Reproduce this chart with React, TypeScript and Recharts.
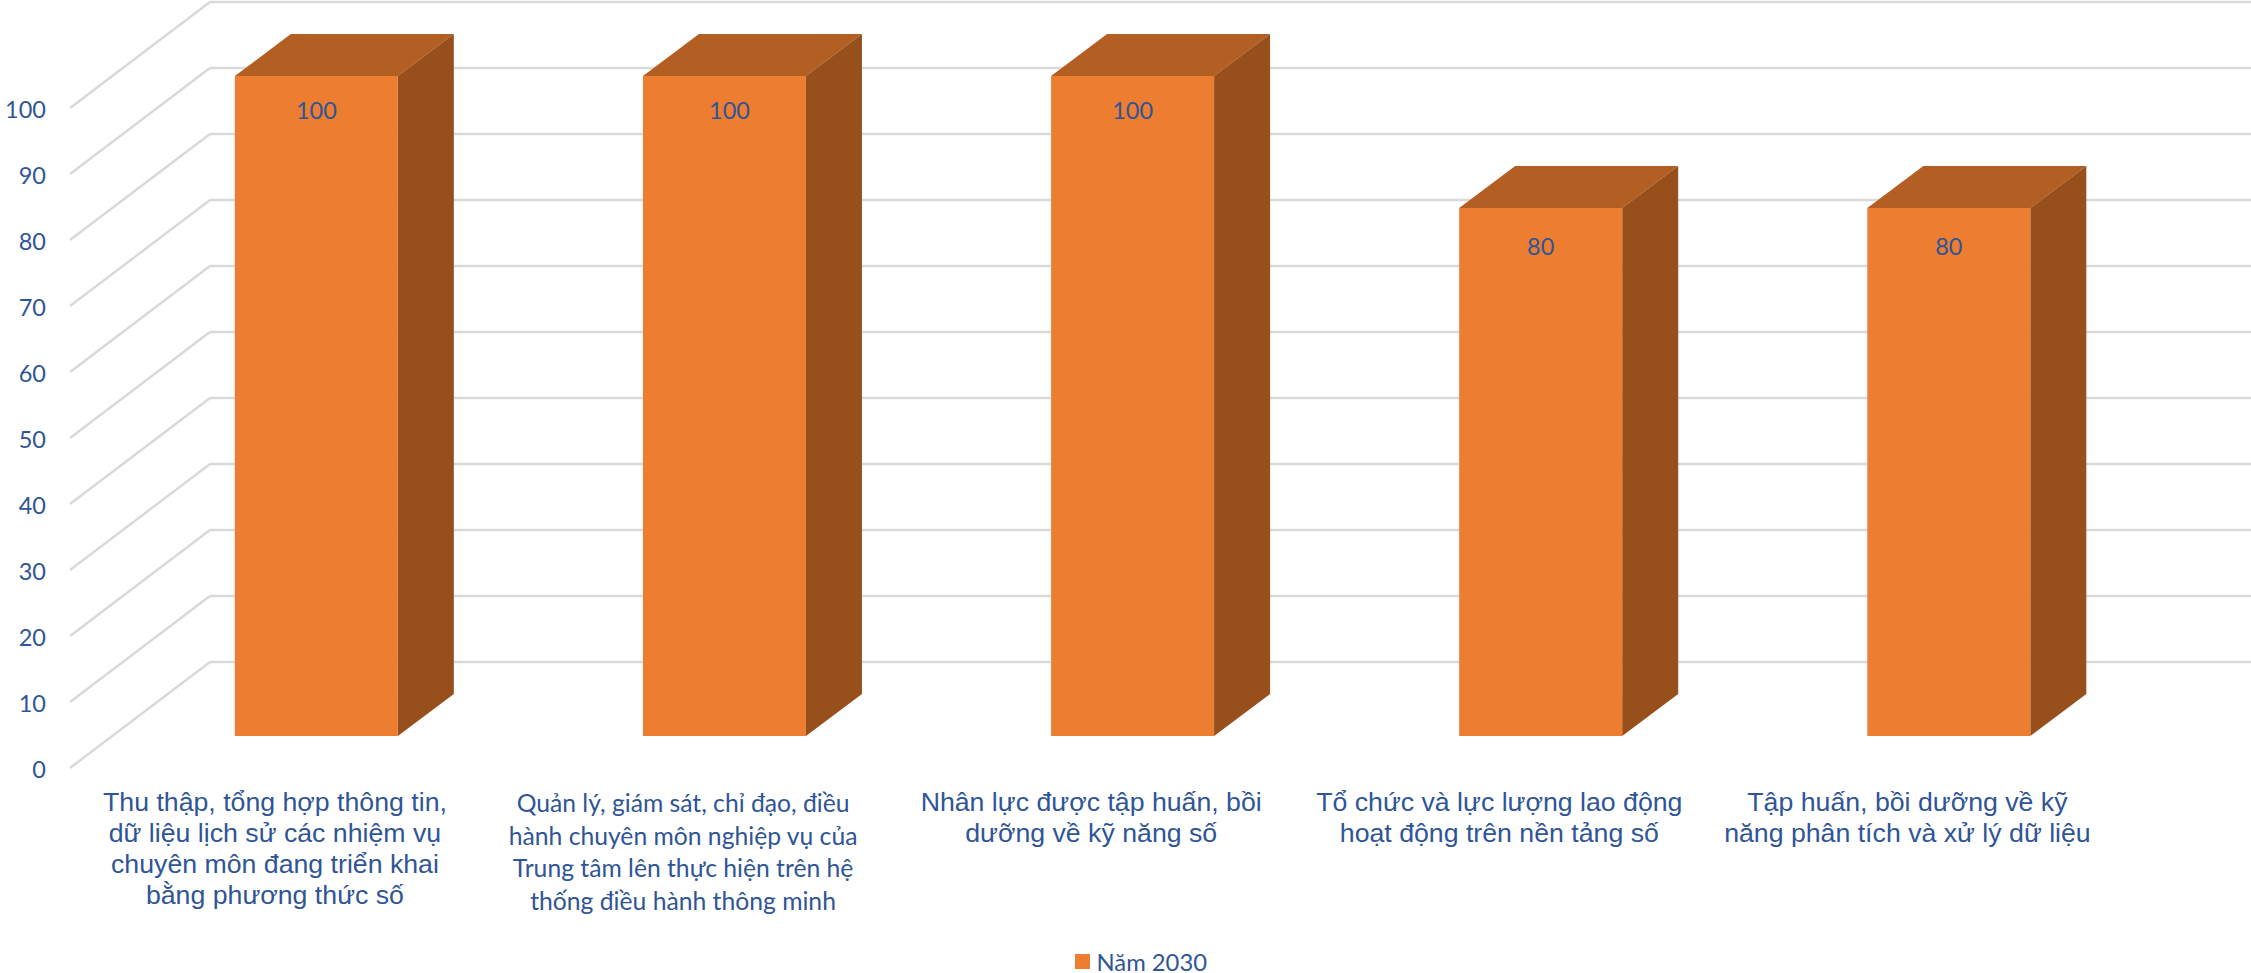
import React from "react";
import { BarChart, Bar, XAxis, YAxis, CartesianGrid, Legend, LabelList } from "recharts";

const categories = [
  "Thu thập, tổng hợp thông tin, dữ liệu lịch sử các nhiệm vụ chuyên môn đang triển khai bằng phương thức số",
  "Quản lý, giám sát, chỉ đạo, điều hành chuyên môn nghiệp vụ của Trung tâm lên thực hiện trên hệ thống điều hành thông minh",
  "Nhân lực được tập huấn, bồi dưỡng về kỹ năng số",
  "Tổ chức và lực lượng lao động hoạt động trên nền tảng số",
  "Tập huấn, bồi dưỡng về kỹ năng phân tích và xử lý dữ liệu",
];
const categoryLines = [
  ["Thu thập, tổng hợp thông tin,", "dữ liệu lịch sử các nhiệm vụ", "chuyên môn đang triển khai", "bằng phương thức số"],
  ["Quản lý, giám sát, chỉ đạo, điều", "hành chuyên môn nghiệp vụ của", "Trung tâm lên thực hiện trên hệ", "thống điều hành thông minh"],
  ["Nhân lực được tập huấn, bồi", "dưỡng về kỹ năng số"],
  ["Tổ chức và lực lượng lao động", "hoạt động trên nền tảng số"],
  ["Tập huấn, bồi dưỡng về kỹ", "năng phân tích và xử lý dữ liệu"],
];
const values2030 = [100, 100, 100, 80, 80];
const yTicks = [0, 10, 20, 30, 40, 50, 60, 70, 80, 90, 100];
const seriesName = "Năm 2030";
const data = categories.map((name, i) => ({ name, value: values2030[i] }));

const TEXT = "#2F5597";
const GRID = "#D9D9D9";
const FRONT = "#ED7D31";
const TOP = "#B35E22";
const SIDE = "#974F1B";
const NUM_FONT = "Lato, sans-serif";
const CAT_FONT = "'Liberation Sans', Arial, sans-serif";

const Bar3D = (p: any) => {
  const { x, y, width, height } = p;
  const dx = 56;
  const dy = 42;
  const r = x + width;
  const b = y + height;
  return (
    <g>
      <polygon points={`${x},${y} ${x + dx},${y - dy} ${r + dx},${y - dy} ${r},${y}`} fill={TOP} />
      <polygon points={`${r},${y} ${r + dx},${y - dy} ${r + dx},${b - dy} ${r},${b}`} fill={SIDE} />
      <rect x={x} y={y} width={width} height={height} fill={FRONT} />
    </g>
  );
};

const gridLine = (p: any) => {
  const { x1, x2, y1, index } = p;
  const fx = x1 - 42.4;
  const bx = x1 + 97.6;
  return (
    <g key={`g-${index}`}>
      <line x1={fx} y1={y1 + 32} x2={bx} y2={y1 - 74} stroke={GRID} strokeWidth={2.4} />
      <line x1={bx} y1={y1 - 74} x2={x2 + 98} y2={y1 - 74} stroke={GRID} strokeWidth={2.6} />
    </g>
  );
};

const YTick = (p: any) => (
  <text x={46} y={p.y + 33} textAnchor="end" dominantBaseline="central" fontFamily={NUM_FONT} fontSize={23.5} fill={TEXT}>
    {p.payload.value}
  </text>
);

const XTick = (p: any) => {
  const i = p.payload.index;
  const second = i === 1;
  const startY = second ? 802.5 : 802;
  return (
    <text
      x={p.x - 41.5}
      textAnchor="middle"
      fontFamily={second ? NUM_FONT : CAT_FONT}
      fontSize={second ? 24.7 : 26.7}
      fill={TEXT}
    >
      {categoryLines[i].map((line, k) => (
        <tspan key={k} x={p.x - 41.5} y={startY + k * (second ? 32.5 : 31)} dominantBaseline="central">
          {line}
        </tspan>
      ))}
    </text>
  );
};

const DataLabel = (p: any) => (
  <text
    x={p.x + p.width / 2 + (p.index === 1 ? 5 : 0)}
    y={p.y + (p.value === 80 ? 38 : 34)}
    textAnchor="middle"
    dominantBaseline="central"
    fontFamily={NUM_FONT}
    fontSize={23.5}
    fill={TEXT}
  >
    {p.value}
  </text>
);

const LegendBox = () => (
  <div style={{ position: "relative", width: 140, height: 24 }}>
    <div style={{ position: "absolute", left: 0, top: 4, width: 15, height: 15, background: FRONT }} />
    <span
      style={{
        position: "absolute",
        left: 21.5,
        top: 0,
        fontFamily: NUM_FONT,
        fontSize: 23.8,
        lineHeight: "24px",
        color: TEXT,
        whiteSpace: "nowrap",
      }}
    >
      {seriesName}
    </span>
  </div>
);

export default function App() {
  return (
    <div style={{ position: "absolute", left: 0, top: 0, width: 2251, height: 973, background: "#fff" }}>
      <BarChart
        width={2251}
        height={973}
        data={data}
        margin={{ top: 76, right: 98, bottom: 0, left: 0 }}
        barCategoryGap="30%"
      >
        <CartesianGrid vertical={false} horizontal={gridLine} />
        <XAxis dataKey="name" axisLine={false} tickLine={false} height={213} interval={0} tick={XTick} />
        <YAxis
          type="number"
          domain={[0, 100]}
          ticks={yTicks}
          width={112.4}
          axisLine={false}
          tickLine={false}
          tick={YTick}
        />
        <Bar dataKey="value" name={seriesName} shape={Bar3D} isAnimationActive={false}>
          <LabelList dataKey="value" content={DataLabel} />
        </Bar>
        <Legend
          content={LegendBox}
          wrapperStyle={{ position: "absolute", left: 1075, top: 950, width: 140, height: 24 }}
        />
      </BarChart>
    </div>
  );
}
